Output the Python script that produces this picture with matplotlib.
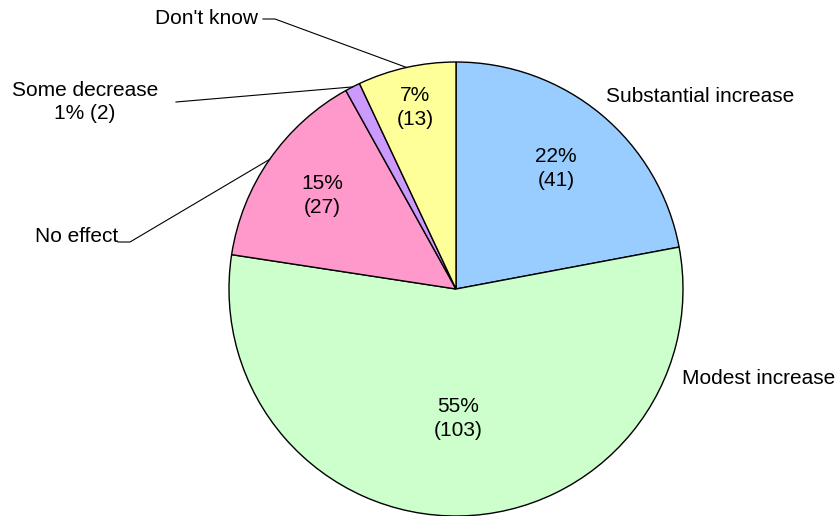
import numpy as np
import matplotlib.pyplot as plt

plt.rcParams['font.family'] = ['Liberation Sans', 'DejaVu Sans']

# survey responses, clockwise from 12 o'clock
categories = ['Substantial increase', 'Modest increase', 'No effect',
              'Some decrease', "Don't know"]
counts = [41, 103, 27, 2, 13]
colors = ['#99CCFF', '#CCFFCC', '#FF99CC', '#CC99FF', '#FFFF99']

W, H = 840, 516
fig = plt.figure(figsize=(W / 100, H / 100), dpi=100)
ax = fig.add_axes([0, 0, 1, 1])

cx, cy, R = 456, H - 289, 227
wedges, _ = ax.pie(counts, colors=colors, startangle=90, counterclock=False,
                   center=(cx, cy), radius=R,
                   wedgeprops=dict(edgecolor='black', linewidth=1.0))
ax.set_xlim(0, W)
ax.set_ylim(0, H)
ax.set_aspect('equal')
ax.axis('off')

total = sum(counts)
pcts = [round(100 * c / total) for c in counts]
fs = 15


def edge_point(w, frac=1.0):
    a = np.deg2rad((w.theta1 + w.theta2) / 2)
    return cx + frac * R * np.cos(a), cy + frac * R * np.sin(a)


# percentages inside the larger slices
inner_frac = [0.69, 0.57, 0.72, None, 0.82]
for w, p, c, f in zip(wedges, pcts, counts, inner_frac):
    if f is None:
        continue
    x, y = edge_point(w, f)
    ax.text(x, y, f'{p}%\n({c})', ha='center', va='center', fontsize=fs,
            linespacing=1.32)

# outside category labels
ax.text(606, H - 97, categories[0], ha='left', va='center', fontsize=fs)
ax.text(682, H - 379, categories[1], ha='left', va='center', fontsize=fs)

# labels with leader lines
x, y = edge_point(wedges[2])
ax.plot([x, 130, 118], [y, H - 242, H - 242], color='black', lw=0.8)
ax.text(118, H - 236, categories[2], ha='right', va='center', fontsize=fs)

x, y = edge_point(wedges[3])
ax.plot([x, 176], [y, H - 102], color='black', lw=0.8)
ax.text(85, H - 102, f'{categories[3]}\n{pcts[3]}% ({counts[3]})',
        ha='center', va='center', fontsize=fs, linespacing=1.32)

x, y = edge_point(wedges[4])
ax.plot([x, 275, 263], [y, H - 19, H - 19], color='black', lw=0.8)
ax.text(258, H - 18, categories[4], ha='right', va='center', fontsize=fs)

fig.savefig('out.png', dpi=100)
